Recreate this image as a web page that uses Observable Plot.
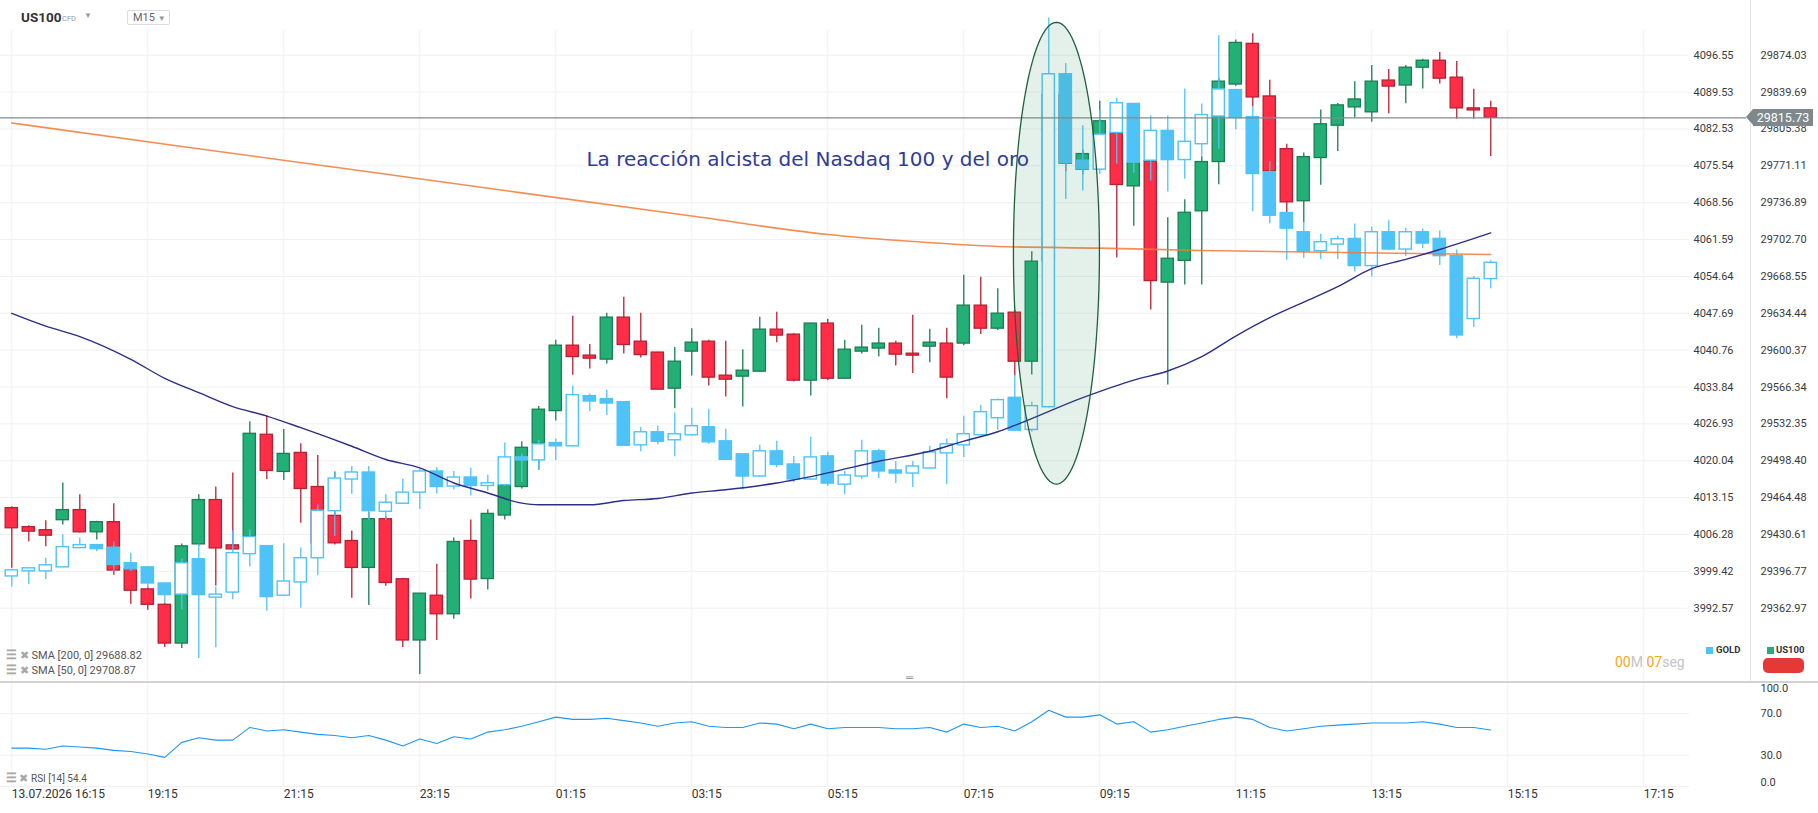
<!DOCTYPE html>
<html><head><meta charset="utf-8">
<script src="https://cdn.jsdelivr.net/npm/d3@7"></script>
<script src="https://cdn.jsdelivr.net/npm/@observablehq/plot@0.6"></script>
<style>
html,body{margin:0;padding:0;background:#fff;}
#wrap{position:relative;width:1818px;height:813px;overflow:hidden;font-family:Roboto,sans-serif;}
#wrap > svg{position:absolute;left:0;top:0;}
.abs{position:absolute;white-space:nowrap;}
</style></head><body><div id="wrap"></div>
<script>
// ---------------- DATA ----------------
const usOpen = [29454.8,29437.3,29434.5,29443.7,29453.0,29432.6,29441.9,29398.7,29380.2,29366.1,
29330.6,29421.5,29462.2,29420.6,29428.6,29522.3,29488.1,29505.6,29474.2,29447.7,
29424.6,29399.9,29444.6,29389.5,29333.4,29374.4,29357.4,29424.6,29389.7,29448.0,
29474.2,29514.0,29544.1,29604.5,29595.3,29591.6,29630.4,29608.2,29598.1,29564.8,
29599.0,29608.2,29576.8,29575.9,29580.5,29619.3,29614.7,29572.2,29624.9,29574.0,
29599.0,29601.8,29606.4,29597.1,29603.6,29606.4,29606.4,29641.5,29620.2,29635.0,
29589.7,29682.2,29836.8,29767.5,29799.8,29801.4,29752.0,29775.5,29662.8,29682.9,
29728.9,29774.6,29846.7,29884.6,29835.6,29786.6,29738.2,29778.3,29808.4,29825.4,
29820.8,29850.4,29845.8,29862.4,29868.9,29853.1,29824.5,29824.5];
const usHigh = [29456.0,29438.5,29443.1,29477.9,29467.1,29442.8,29458.8,29400.6,29382.4,29367.3,
29421.8,29467.1,29474.2,29487.2,29534.3,29539.8,29527.2,29514.0,29503.1,29488.1,
29433.8,29450.7,29446.8,29390.4,29376.5,29403.3,29427.4,29444.0,29453.2,29478.2,
29515.8,29548.4,29609.4,29631.6,29605.5,29634.4,29649.2,29634.4,29598.3,29602.7,
29620.2,29609.4,29608.5,29600.8,29630.7,29635.3,29615.4,29625.1,29628.8,29609.4,
29623.3,29620.5,29608.5,29632.5,29619.6,29620.5,29669.5,29667.7,29657.2,29637.2,
29691.4,29850.6,29843.3,29786.0,29831.2,29804.4,29776.7,29776.7,29722.8,29739.7,
29779.5,29852.5,29888.3,29894.1,29850.6,29791.2,29782.9,29822.9,29829.1,29849.4,
29864.5,29860.8,29864.5,29870.3,29876.5,29868.2,29842.3,29831.2];
const usLow = [29399.6,29423.9,29419.3,29439.4,29432.0,29425.5,29393.2,29366.6,29361.1,29326.9,
29326.0,29420.0,29383.3,29416.5,29427.4,29481.2,29480.3,29441.0,29420.0,29420.9,
29372.2,29365.4,29383.0,29326.9,29302.3,29333.4,29352.8,29371.3,29379.6,29444.0,
29472.4,29489.6,29534.9,29577.1,29582.9,29587.5,29596.8,29593.1,29563.7,29546.3,
29576.4,29567.2,29557.0,29547.8,29579.9,29607.3,29570.9,29558.0,29572.2,29573.4,
29596.8,29594.0,29585.7,29578.7,29588.8,29555.6,29604.5,29614.7,29618.4,29576.4,
29577.4,29675.1,29765.6,29762.8,29786.0,29685.5,29715.1,29637.4,29568.1,29660.5,
29660.5,29753.6,29845.1,29826.0,29764.7,29727.7,29718.2,29753.0,29784.4,29815.3,
29811.6,29819.5,29828.7,29842.6,29847.2,29814.3,29814.3,29779.8];
const usClose = [29436.3,29433.2,29429.5,29453.0,29432.6,29441.9,29397.5,29379.0,29366.1,29330.6,
29419.7,29462.2,29417.8,29416.9,29523.2,29489.0,29504.7,29472.4,29422.5,29422.5,
29399.9,29444.6,29386.1,29333.4,29376.3,29357.4,29423.7,29389.2,29449.5,29475.4,
29510.3,29545.4,29604.5,29594.0,29592.5,29630.4,29605.1,29595.8,29563.9,29589.7,
29607.3,29575.0,29573.1,29581.4,29619.3,29613.8,29572.2,29624.9,29574.0,29600.8,
29602.7,29606.4,29596.2,29595.3,29607.3,29575.0,29641.5,29620.2,29634.1,29589.7,
29682.2,29836.8,29773.0,29782.0,29812.5,29753.3,29773.7,29664.2,29684.9,29727.5,
29774.6,29849.4,29885.5,29834.7,29765.9,29737.2,29779.2,29809.7,29827.3,29832.8,
29849.4,29844.8,29862.4,29868.9,29852.2,29824.5,29822.6,29815.73];

const goldOpen = [3998.47,3999.41,3999.41,4000.16,4003.74,4004.30,4003.80,4000.92,4000.16,3997.16,
3995.09,4001.67,3994.53,3995.47,4002.61,4004.11,3994.90,3997.35,4001.86,4010.62,
4016.53,4017.84,4010.51,4012.01,4014.08,4018.03,4015.21,4016.90,4015.32,4015.45,
4020.66,4020.10,4023.35,4022.73,4032.13,4031.57,4031.00,4022.92,4025.36,4023.86,
4024.80,4026.30,4023.67,4021.23,4017.09,4021.79,4019.34,4016.53,4020.85,4015.58,
4017.09,4021.79,4018.22,4017.65,4018.59,4021.41,4022.92,4024.80,4027.99,4031.81,
4025.79,4030.06,4092.92,4076.51,4074.81,4081.77,4087.28,4076.51,4082.15,4076.62,
4079.63,4084.89,4089.91,4084.78,4074.31,4066.60,4062.97,4059.39,4060.64,4061.71,
4056.58,4062.97,4059.70,4062.97,4061.71,4058.46,4046.61,4054.13];
const goldHigh = [3999.79,4000.03,4001.86,4006.18,4005.62,4004.36,4004.87,4002.80,4000.22,3997.21,
4001.67,4004.49,3996.52,4006.99,4007.18,4004.17,4004.55,4003.74,4011.82,4017.84,
4018.97,4018.97,4013.71,4016.58,4018.46,4018.78,4018.03,4018.65,4017.33,4023.35,
4021.28,4023.86,4024.10,4034.01,4032.51,4033.26,4031.06,4026.30,4026.49,4028.99,
4029.87,4029.69,4025.93,4021.28,4022.92,4023.67,4020.85,4024.42,4021.60,4018.03,
4023.86,4022.17,4019.91,4019.91,4022.73,4024.04,4028.37,4030.36,4031.57,4036.00,
4031.00,4103.64,4094.99,4083.14,4086.15,4088.35,4087.37,4084.97,4084.97,4090.10,
4087.28,4100.25,4090.01,4086.77,4076.37,4066.69,4064.85,4062.59,4062.22,4064.53,
4063.91,4065.15,4063.72,4063.59,4063.21,4059.64,4054.62,4057.57];
const goldLow = [3996.52,3996.97,3997.91,4000.07,4003.64,4003.04,3999.34,3999.41,3996.22,3993.39,
3992.27,3983.24,3985.24,3994.15,4000.28,3992.00,3994.81,3992.57,3998.59,4005.92,
4013.76,4008.93,4008.93,4011.88,4010.94,4013.82,4014.57,4013.44,4014.38,4015.26,
4015.96,4018.41,4020.10,4022.63,4029.24,4028.48,4022.79,4021.71,4023.03,4020.77,
4024.61,4023.11,4020.15,4014.64,4016.99,4018.71,4015.96,4016.34,4015.21,4013.71,
4016.53,4016.71,4015.77,4015.02,4018.50,4015.58,4020.66,4024.70,4025.74,4025.61,
4025.42,4029.97,4069.17,4070.79,4073.93,4075.81,4074.12,4072.67,4070.60,4072.99,
4077.37,4078.63,4082.39,4066.84,4064.59,4057.70,4058.08,4057.82,4057.82,4055.45,
4054.51,4059.51,4058.46,4059.83,4056.69,4042.90,4045.03,4052.31];
const goldClose = [3999.60,3999.98,4000.54,4003.92,4004.30,4003.55,4000.60,3999.79,3997.16,3995.01,
4000.92,3995.01,3995.09,4002.80,4005.81,3994.64,3997.53,4001.86,4010.70,4016.71,
4017.84,4010.62,4012.20,4014.08,4018.03,4015.13,4016.90,4015.32,4015.83,4020.66,
4020.10,4023.11,4022.73,4032.32,4031.12,4030.74,4022.84,4025.36,4023.59,4024.99,
4026.49,4023.48,4020.21,4017.09,4021.79,4019.27,4016.53,4020.66,4015.77,4017.28,
4021.79,4018.03,4017.65,4018.97,4021.60,4023.11,4024.99,4029.12,4031.38,4025.66,
4030.25,4092.92,4076.00,4074.87,4081.45,4087.41,4076.13,4082.15,4076.62,4080.08,
4085.16,4090.04,4084.59,4073.99,4066.09,4063.65,4059.32,4061.09,4061.65,4056.58,
4062.97,4059.70,4062.97,4060.83,4058.46,4043.52,4054.19,4057.20];

const rsiValues = [36.9,36.9,35.8,39.0,38.0,36.9,34.7,33.6,31.3,28.0,
42.4,46.8,44.6,44.6,56.8,53.4,54.5,52.3,50.1,49.0,
46.8,49.0,44.6,39.0,45.7,41.3,47.9,45.7,52.3,54.5,
57.9,62.3,66.7,64.5,64.5,65.6,63.3,61.1,57.9,61.1,
62.3,57.9,56.8,56.8,61.1,60.0,55.6,60.0,55.6,56.8,
56.8,56.8,55.6,55.6,56.8,52.3,60.0,56.8,57.9,53.4,
62.3,73.3,66.7,66.7,68.9,60.0,62.3,52.3,54.5,57.9,
61.1,64.5,66.7,64.5,56.8,53.4,55.6,57.9,59.0,60.0,
61.1,61.1,61.1,62.3,60.0,56.8,56.8,54.4];

const sma50Bar = [0,2,4,7,9,11,13,15,17,20,22,24,26,28,30,31,34,36,38,40,42,45,48,51,54,56,58,59,63,66,68,70,72,74,76,78,80,82,84,87];
const sma50Val = [29634.4,29622.6,29612.9,29591.9,29574.3,29561.1,29548.2,29539.5,29528.8,29511.7,29499.5,29491.8,29477.9,29468.7,29459.4,29457.9,29457.9,29461.8,29463.7,29468.7,29471.7,29477.9,29487.2,29497.9,29507.1,29516.4,29525.1,29530.9,29556.5,29572.7,29581.1,29594.4,29613.4,29630.4,29644.8,29659.1,29675.7,29684.3,29693.5,29708.87];
const sma200Bar = [0,10,20,30,40,48,53,58,64,70,75,87];
const sma200Val = [29810.9,29789.1,29767.6,29746.0,29724.5,29707.4,29700.9,29696.3,29694.7,29692.6,29691.4,29688.82];

const usTicks = [29874.03,29839.69,29805.38,29771.11,29736.89,29702.70,29668.55,29634.44,29600.37,29566.34,29532.35,29498.40,29464.48,29430.61,29396.77,29362.97];
const goldTicks = [4096.55,4089.53,4082.53,4075.54,4068.56,4061.59,4054.64,4047.69,4040.76,4033.84,4026.93,4020.04,4013.15,4006.28,3999.42,3992.57];
const rsiTicks = [100,70,30,0];
const timeTickBar = [0,8,16,24,32,40,48,56,64,72,80,88,96];
const timeTickLabel = ["13.07.2026 16:15","19:15","21:15","23:15","01:15","03:15","05:15","07:15","09:15","11:15","13:15","15:15","17:15"];

const lastPrice = 29815.73;
const annotationText = "La reacción alcista del Nasdaq 100 y del oro";
const annotationBar = 33.8, annotationPrice = 29776.7;
const highlight = {bar: 61.45, price: 29690.8, barRadius: 2.53, priceRadius: 213.9};

// ---------------- STYLE ----------------
const W = 1818, H = 813;
const C = {up:"#23b077", upLine:"#1a7d53", down:"#ff2d46", downLine:"#b81f30",
  gold:"#4fc3f7", grid:"#f0f0f0", sma50:"#2b2f86", sma200:"#f07a35", rsi:"#2196f3", text:"#3a3a3a"};
const X = {type:"linear", domain:[-0.665, 98.69], range:[0, 1689], axis:null};
const usY = {type:"log", domain:[29362.97, 29874.03], range:[607.7, 54.7], axis:null};
const goldY = {type:"log", domain:[3992.57, 4096.55], range:[607.7, 54.7], axis:null};
const paneBottom = 681.5;
const fontStyle = {background:"transparent", fontFamily:"Roboto, sans-serif", overflow:"visible"};

const usBars = usOpen.map((o, i) => ({i, o, h: usHigh[i], l: usLow[i], c: usClose[i]}));
const goldBars = goldOpen.map((o, i) => ({i, o, h: goldHigh[i], l: goldLow[i], c: goldClose[i]}));
const rsiData = rsiValues.map((v, i) => ({i, v}));
const sma50 = sma50Bar.map((i, k) => ({i, v: sma50Val[k]}));
const sma200 = sma200Bar.map((i, k) => ({i, v: sma200Val[k]}));
const ellipsePts = d3.range(0, 361, 3).map(a => {
  const t = a * Math.PI / 180;
  return {i: highlight.bar + highlight.barRadius * Math.cos(t), v: highlight.price + highlight.priceRadius * Math.sin(t)};
});
const half = 0.36;
const wrap = document.getElementById("wrap");

// US100 pane (grid + candles + right axis)
const usPlot = Plot.plot({
  width: W, height: H, marginLeft: 0, marginRight: 129, marginTop: 30, marginBottom: H - paneBottom,
  x: X, y: usY, style: fontStyle,
  marks: [
    Plot.gridY({ticks: usTicks, stroke: C.grid, strokeOpacity: 1}),
    Plot.gridX({ticks: timeTickBar, stroke: C.grid, strokeOpacity: 1}),
    Plot.axisY({ticks: usTicks, anchor: "right", tickSize: 0, tickPadding: 71, label: null,
      tickFormat: d => d.toFixed(2), fontSize: 11, fill: C.text}),
    Plot.ruleX(usBars, {x: "i", y1: "l", y2: "h", stroke: d => d.c >= d.o ? C.upLine : C.downLine, strokeWidth: 1.3}),
    Plot.rect(usBars, {x1: d => d.i - half, x2: d => d.i + half, y1: "o", y2: "c",
      fill: d => d.c >= d.o ? C.up : C.down, stroke: d => d.c >= d.o ? C.upLine : C.downLine, strokeWidth: 1.3})
  ]
});
wrap.appendChild(usPlot);

// GOLD pane (candles + axis)
const goldPlot = Plot.plot({
  width: W, height: H, marginLeft: 0, marginRight: 129, marginTop: 30, marginBottom: H - paneBottom,
  x: X, y: goldY, style: fontStyle,
  marks: [
    Plot.axisY({ticks: goldTicks, anchor: "right", tickSize: 0, tickPadding: 4, label: null,
      tickFormat: d => d.toFixed(2), fontSize: 11, fill: C.text}),
    Plot.ruleX(goldBars, {x: "i", y1: "l", y2: "h", stroke: C.gold, strokeWidth: 1.3}),
    Plot.rect(goldBars, {x1: d => d.i - half, x2: d => d.i + half, y1: "o", y2: "c",
      fill: d => d.c >= d.o ? "#ffffff" : C.gold, stroke: C.gold, strokeWidth: 1.4})
  ]
});
wrap.appendChild(goldPlot);

// Overlay on US100 scale: SMAs, annotation, price line
const overlay = Plot.plot({
  width: W, height: H, marginLeft: 0, marginRight: W - 1746, marginTop: 30, marginBottom: H - paneBottom,
  x: X, y: usY, style: fontStyle,
  marks: [
    Plot.line(sma200, {x: "i", y: "v", stroke: C.sma200, strokeWidth: 1.6, strokeOpacity: 0.85, curve: "monotone-x"}),
    Plot.line(sma50, {x: "i", y: "v", stroke: C.sma50, strokeWidth: 1.4, curve: "monotone-x"}),
    Plot.ruleY([lastPrice], {stroke: "#7f8b8f", strokeWidth: 1.2}),
    Plot.line(ellipsePts, {x: "i", y: "v", stroke: "#1d6140", strokeWidth: 1.3, fill: "#3c9a6a", fillOpacity: 0.14, curve: "linear"}),
    Plot.text([annotationText], {x: annotationBar, y: annotationPrice, text: d => d, textAnchor: "start",
      fontSize: 20, fontFamily: "DejaVu Sans", fill: "#303c96"})
  ]
});
wrap.appendChild(overlay);

// RSI pane + time axis
const rsiPlot = Plot.plot({
  width: W, height: H, marginLeft: 0, marginRight: 129, marginTop: paneBottom, marginBottom: 27,
  x: X, y: {type: "linear", domain: [0, 100], range: [786, 682], axis: null}, style: fontStyle,
  marks: [
    Plot.gridY({ticks: [0, 30, 70], stroke: C.grid, strokeOpacity: 1}),
    Plot.gridX({ticks: timeTickBar, stroke: C.grid, strokeOpacity: 1}),
    Plot.axisY({ticks: [70, 30], anchor: "right", tickSize: 0, tickPadding: 71, label: null,
      tickFormat: d => d.toFixed(1), fontSize: 11, fill: C.text}),
    Plot.axisY({ticks: [100], anchor: "right", tickSize: 0, tickPadding: 71, label: null, dy: 6,
      tickFormat: d => d.toFixed(1), fontSize: 11, fill: C.text}),
    Plot.axisY({ticks: [0], anchor: "right", tickSize: 0, tickPadding: 71, label: null, dy: -4,
      tickFormat: d => d.toFixed(1), fontSize: 11, fill: C.text}),
    Plot.line(rsiData, {x: "i", y: "v", stroke: C.rsi, strokeWidth: 1.1}),
    Plot.axisX({ticks: timeTickBar, anchor: "bottom", tickSize: 0, tickPadding: 3, label: null,
      tickFormat: i => timeTickLabel[timeTickBar.indexOf(i)], textAnchor: "start", fontSize: 12, fill: "#333"})
  ]
});
wrap.appendChild(rsiPlot);

// ---------------- HTML chrome ----------------
function add(html, css) {
  const d = document.createElement("div");
  d.className = "abs"; d.innerHTML = html; Object.assign(d.style, css); wrap.appendChild(d); return d;
}
// separators
add("", {left: "1750px", top: "0px", width: "1px", height: paneBottom + "px", background: "#e6e6e6"});
add("", {left: "0px", top: (paneBottom - 0.5) + "px", width: W + "px", height: "1.5px", background: "#d2d2d2"});
add("═", {left: "906px", top: "672px", fontSize: "10px", color: "#888"});
// header
add("US100", {left: "21px", top: "9px", fontSize: "13.5px", fontWeight: "700", color: "#333"});
add("CFD", {left: "62px", top: "14px", fontSize: "7.5px", color: "#999"});
add("▼", {left: "84px", top: "11px", fontSize: "8px", color: "#9a9a9a"});
add('<span style="color:#666">M15</span> <span style="color:#999;font-size:8px">▼</span>',
  {left: "127px", top: "10px", width: "43px", height: "15px", boxSizing: "border-box", border: "1px solid #dcdcdc",
   borderRadius: "2px", fontSize: "11px", lineHeight: "13px", paddingLeft: "5px"});
// price tag
const tagY = usPlot.scale("y").apply(lastPrice);
add('<div style="position:absolute;left:-7px;top:0;width:0;height:0;border-top:8.5px solid transparent;border-bottom:8.5px solid transparent;border-right:7px solid #7d898c"></div>' + lastPrice.toFixed(2),
  {left: "1753px", top: (tagY - 8.5) + "px", width: "60px", height: "17px", background: "#7d898c", color: "#fff",
   fontSize: "12.5px", lineHeight: "17px", textAlign: "center"});
// legends bottom right
add("", {left: "1706px", top: "647px", width: "7px", height: "7px", background: C.gold});
add("GOLD", {left: "1716px", top: "644px", fontSize: "9.5px", fontWeight: "700", color: "#333"});
add("", {left: "1767px", top: "647px", width: "7px", height: "7px", background: C.up});
add("US100", {left: "1776px", top: "644px", fontSize: "9.5px", fontWeight: "700", color: "#333"});
add("", {left: "1763px", top: "658px", width: "41px", height: "15px", background: "#e53935", borderRadius: "5px"});
add('<span style="color:#f5a623">00</span><span style="color:#c4c4c4">M </span><span style="color:#f5a623">07</span><span style="color:#c4c4c4">seg</span>',
  {left: "1615px", top: "654px", fontSize: "14px"});
// indicator legends
const icon = '<span style="color:#a8a8a8;font-size:12px;font-weight:700">☰</span> <span style="color:#a8a8a8;font-size:11px">✖</span> ';
add(icon + "SMA [200, 0] 29688.82", {left: "6px", top: "648px", fontSize: "11px", color: "#555"});
add(icon + "SMA [50, 0] 29708.87", {left: "6px", top: "663px", fontSize: "11px", color: "#555"});
add(icon + "RSI [14] 54.4", {left: "6px", top: "771px", fontSize: "10px", color: "#555"});
</script></body></html>
